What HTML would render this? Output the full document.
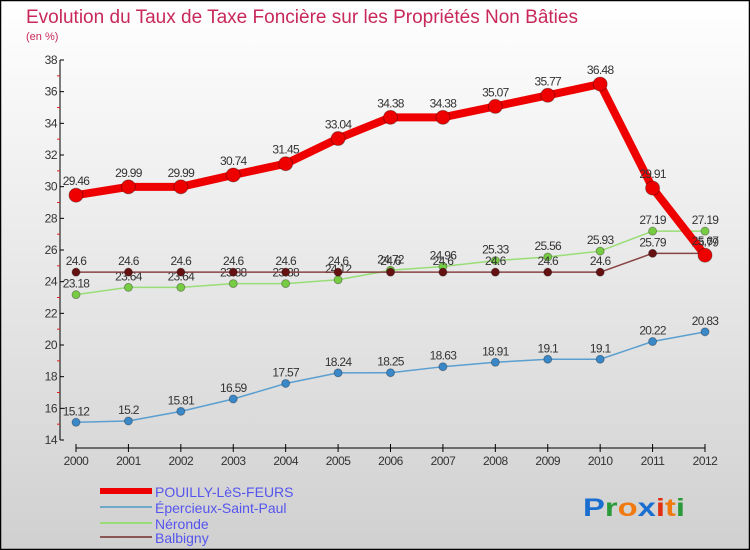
<!DOCTYPE html>
<html><head><meta charset="utf-8"><style>
body{margin:0;}
svg{display:block;font-family:"Liberation Sans",sans-serif;}
</style></head><body>
<svg width="750" height="550" xmlns="http://www.w3.org/2000/svg">
<defs><linearGradient id="bg" x1="0" y1="0" x2="0" y2="1"><stop offset="0" stop-color="#ffffff"/><stop offset="1" stop-color="#d0d0d0"/></linearGradient></defs>
<rect x="0.5" y="0.5" width="749" height="549" fill="url(#bg)" stroke="#000" stroke-width="1.5"/>
<text x="26" y="23" font-size="19" fill="#c8285a" textLength="552" lengthAdjust="spacingAndGlyphs">Evolution du Taux de Taxe Foncière sur les Propriétés Non Bâties</text>
<text x="26" y="40" font-size="11" fill="#c8285a">(en %)</text>
<g id="axes"></g>
<g id="series"></g>
<g id="legend">
<rect x="100" y="488" width="52" height="6" fill="#ee0000"/>
<text x="155" y="497" font-size="14" fill="#5555ee">POUILLY-LèS-FEURS</text>
<rect x="100" y="506" width="52" height="2" fill="#6fa8c8"/>
<text x="155" y="513" font-size="14" fill="#5555ee">Épercieux-Saint-Paul</text>
<rect x="100" y="522" width="52" height="2" fill="#99dd77"/>
<text x="155" y="529" font-size="14" fill="#5555ee">Néronde</text>
<rect x="100" y="536" width="52" height="2" fill="#8a5555"/>
<text x="155" y="543" font-size="14" fill="#5555ee">Balbigny</text>
</g>
<text x="583" y="516" font-size="25" font-weight="bold" textLength="102" lengthAdjust="spacingAndGlyphs"><tspan fill="#1a6ed0">P</tspan><tspan fill="#2a9a3a">r</tspan><tspan fill="#f07a10">o</tspan><tspan fill="#1a6ed0">x</tspan><tspan fill="#e03010">i</tspan><tspan fill="#f07a10">t</tspan><tspan fill="#2a9a3a">i</tspan></text>
</svg>
<script>
const years=[2000,2001,2002,2003,2004,2005,2006,2007,2008,2009,2010,2011,2012];
const pouilly=[29.46,29.99,29.99,30.74,31.45,33.04,34.38,34.38,35.07,35.77,36.48,29.91,25.67];
const epercieux=[15.12,15.2,15.81,16.59,17.57,18.24,18.25,18.63,18.91,19.1,19.1,20.22,20.83];
const neronde=[23.18,23.64,23.64,23.88,23.88,24.12,24.72,24.96,25.33,25.56,25.93,27.19,27.19];
const balbigny=[24.6,24.6,24.6,24.6,24.6,24.6,24.6,24.6,24.6,24.6,24.6,25.79,25.79];
const yTicks=[14,16,18,20,22,24,26,28,30,32,34,36,38];
const NS="http://www.w3.org/2000/svg";
const yMin=14,yMax=38,yTop=60,yBot=440,xL=76,xR=705;
const X=i=>xL+(xR-xL)*i/(years.length-1);
const Y=v=>yBot-(v-yMin)/(yMax-yMin)*(yBot-yTop);
function mk(tag,attrs,parent){const e=document.createElementNS(NS,tag);for(const k in attrs)e.setAttribute(k,attrs[k]);parent.appendChild(e);return e;}
const ax=document.getElementById('axes');
let l=mk('line',{x1:60,y1:yTop,x2:60,y2:yBot,stroke:'#000'},ax);


l=mk('line',{x1:xL,y1:448,x2:xR,y2:448,stroke:'#000'},ax);


yTicks.forEach(v=>{
  mk('line',{x1:60,y1:Y(v),x2:64,y2:Y(v),stroke:'#000'},ax);
  if(v<yMax) mk('line',{x1:57,y1:Y(v+1),x2:60,y2:Y(v+1),stroke:'#e02020'},ax);
  const t=mk('text',{x:57,y:Y(v)+4,'font-size':12,'text-anchor':'end',fill:'#333','letter-spacing':'-0.5'},ax);
  t.textContent=v;
  
  
});
years.forEach((yr,i)=>{
  mk('line',{x1:X(i),y1:444,x2:X(i),y2:452,stroke:'#000'},ax);
  const t=mk('text',{x:X(i),y:465,'font-size':12,'text-anchor':'middle',fill:'#333','letter-spacing':'-0.5'},ax);
  t.textContent=yr;
  
  
});
const sg=document.getElementById('series');
function draw(vals,color,dot,w,r,name){
  const g=mk('g',{},sg);
  
  
  const p=mk('polyline',{points:vals.map((v,i)=>X(i)+','+Y(v)).join(' '),fill:'none',stroke:color,'stroke-width':w,'stroke-linejoin':'round'},g);
  
  
  vals.forEach((v,i)=>{
    const c=mk('circle',{cx:X(i),cy:Y(v),r:r,fill:dot,stroke:'rgba(0,0,0,0.3)','stroke-width':1},g);
    
    
    const t=mk('text',{x:X(i),y:Y(v)-r-3,'font-size':12,'text-anchor':'middle',fill:'#333','letter-spacing':'-0.7'},g);
    t.textContent=v;
    
    
  });
}
draw(epercieux,'#5a9fd0','#3a88c8',1.5,4,'epercieux');
draw(neronde,'#99dd77','#77cc44',1.5,4,'neronde');
draw(balbigny,'#884444','#661111',1.5,4,'balbigny');
draw(pouilly,'#ee0000','#ee0000',8,7,'pouilly');
</script>
</body></html>
